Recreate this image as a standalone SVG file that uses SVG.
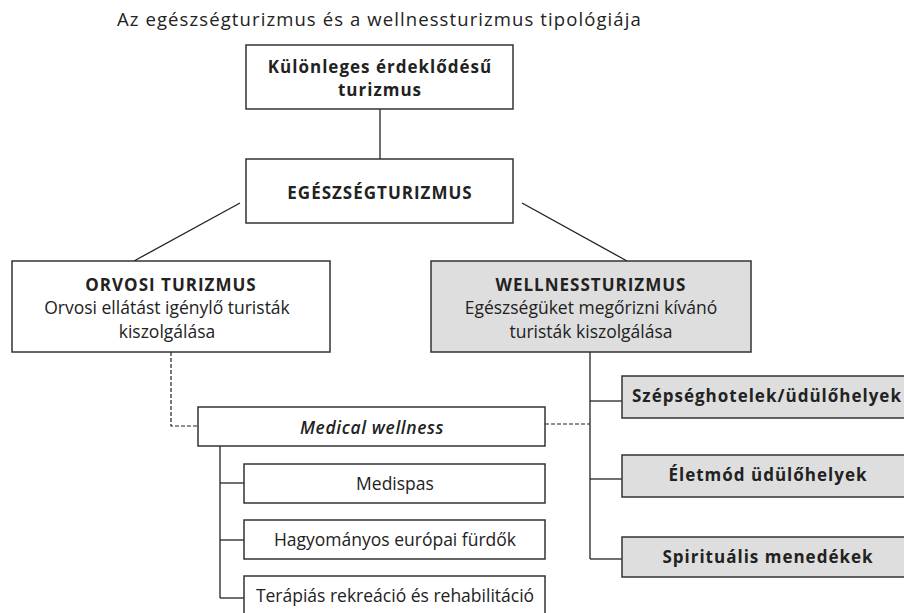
<svg xmlns="http://www.w3.org/2000/svg" width="904" height="613" viewBox="0 0 904 613">
<style>
text{font-family:"Open Sans","Noto Sans","Liberation Sans",sans-serif;fill:#222;}
.t{font-size:18.5px;letter-spacing:1.1px;}
.b{font-weight:bold;font-size:17px;letter-spacing:1px;}
.r{font-size:17.5px;}
.i{font-size:17.5px;font-style:italic;font-weight:600;letter-spacing:0.6px;}
.box{fill:#fff;stroke:#333;stroke-width:1.5;}
.gbox{fill:#dedede;stroke:#333;stroke-width:1.5;}
.ln{stroke:#222;stroke-width:1.3;fill:none;}
.dl{stroke:#222;stroke-width:1.2;fill:none;stroke-dasharray:4 2;}
</style>
<rect width="904" height="613" fill="#fff"/>
<text class="t" x="117" y="26">Az egészségturizmus és a wellnessturizmus tipológiája</text>
<g id="connectors">
<line class="ln" x1="380" y1="109" x2="380" y2="159"/>
<line class="ln" x1="240" y1="203" x2="134" y2="261"/>
<line class="ln" x1="522" y1="203" x2="627" y2="261"/>
<line class="ln" x1="590" y1="352" x2="590" y2="559"/>
<line class="ln" x1="590" y1="401" x2="622" y2="401"/>
<line class="ln" x1="590" y1="479" x2="622" y2="479"/>
<line class="ln" x1="590" y1="559" x2="622" y2="559"/>
<polyline class="dl" points="171,352 171,426 198,426"/>
<line class="dl" x1="545" y1="424" x2="590" y2="424"/>
<line class="ln" x1="220" y1="446" x2="220" y2="598"/>
<line class="ln" x1="220" y1="483" x2="244" y2="483"/>
<line class="ln" x1="220" y1="540" x2="244" y2="540"/>
<line class="ln" x1="220" y1="598" x2="244" y2="598"/>
</g>
<g id="kulonleges">
<rect class="box" x="246" y="45" width="267" height="64"/>
<text class="b" x="380" y="73" text-anchor="middle">Különleges érdeklődésű</text>
<text class="b" x="380" y="96" text-anchor="middle">turizmus</text>
</g>
<g id="egeszseg">
<rect class="box" x="246" y="159" width="267" height="64"/>
<text class="b" x="380" y="199" text-anchor="middle">EGÉSZSÉGTURIZMUS</text>
</g>
<g id="orvosi">
<rect class="box" x="12" y="261" width="318" height="91"/>
<text class="b" x="171" y="291" text-anchor="middle">ORVOSI TURIZMUS</text>
<text class="r" x="167" y="314" text-anchor="middle">Orvosi ellátást igénylő turisták</text>
<text class="r" x="167" y="338" text-anchor="middle">kiszolgálása</text>
</g>
<g id="wellness">
<rect class="gbox" x="431" y="261" width="320" height="91"/>
<text class="b" x="591" y="291" text-anchor="middle">WELLNESSTURIZMUS</text>
<text class="r" x="591" y="314" text-anchor="middle">Egészségüket megőrizni kívánó</text>
<text class="r" x="591" y="338" text-anchor="middle">turisták kiszolgálása</text>
</g>
<g id="medical">
<rect class="box" x="198" y="407" width="347" height="39"/>
<text class="i" x="372" y="434" text-anchor="middle">Medical wellness</text>
</g>
<g id="medispas">
<rect class="box" x="244" y="464" width="301" height="39"/>
<text class="r" x="395" y="490" text-anchor="middle">Medispas</text>
</g>
<g id="furdok">
<rect class="box" x="244" y="520" width="301" height="39"/>
<text class="r" x="395" y="546" text-anchor="middle">Hagyományos európai fürdők</text>
</g>
<g id="terapias">
<rect class="box" x="244" y="576" width="301" height="40"/>
<text class="r" x="395" y="602" text-anchor="middle">Terápiás rekreáció és rehabilitáció</text>
</g>
<g id="szepseg">
<rect class="gbox" x="622" y="376" width="300" height="42"/>
<text class="b" x="632" y="402">Szépséghotelek/üdülőhelyek</text>
</g>
<g id="eletmod">
<rect class="gbox" x="622" y="455" width="300" height="42"/>
<text class="b" x="768" y="481" text-anchor="middle">Életmód üdülőhelyek</text>
</g>
<g id="spiritualis">
<rect class="gbox" x="622" y="537" width="300" height="40"/>
<text class="b" x="768" y="563" text-anchor="middle">Spirituális menedékek</text>
</g>
</svg>
